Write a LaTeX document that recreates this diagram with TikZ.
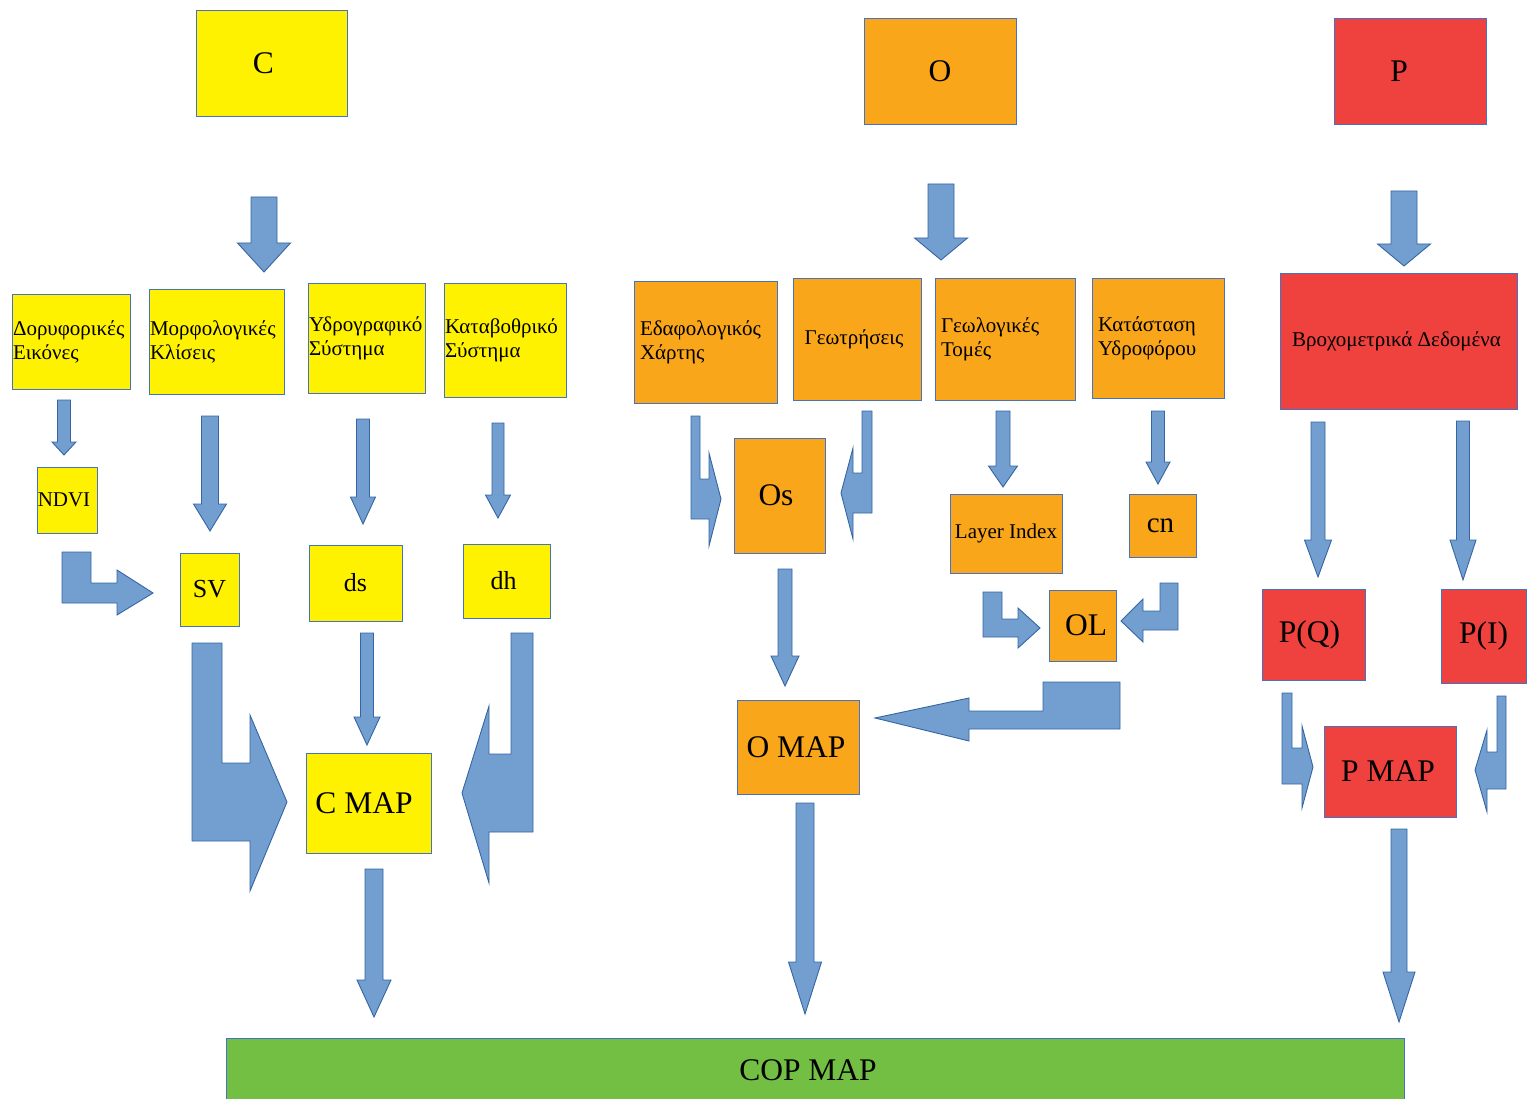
\documentclass[tikz,border=0pt]{standalone}
\usepackage{fontspec}
\setmainfont{Liberation Serif}

\definecolor{cyellow}{RGB}{255,242,0}
\definecolor{corange}{RGB}{249,166,26}
\definecolor{cred}{RGB}{239,65,61}
\definecolor{cgreen}{RGB}{114,191,68}
\definecolor{boxline}{RGB}{68,114,196}
\definecolor{arrowfill}{RGB}{114,159,207}
\definecolor{arrowline}{RGB}{52,101,164}

\tikzstyle{box}=[draw=boxline, line width=0.9pt, rectangle, inner sep=0pt]
\tikzstyle{small}=[font=\fontsize{21}{24}\selectfont]
\tikzstyle{big}=[font=\fontsize{31.5}{36}\selectfont]
\tikzstyle{blockarrow}=[draw=arrowline, fill=arrowfill, line width=0.9pt]

% straight block arrow: x, top, tip, shaft half width, head half width, head length
\newcommand{\blockdown}[6]{%
  \draw[blockarrow] (#1-#4,#2) -- (#1+#4,#2) -- (#1+#4,#3-#6) -- (#1+#5,#3-#6)
    -- (#1,#3) -- (#1-#5,#3-#6) -- (#1-#4,#3-#6) -- cycle;}

\begin{document}
\begin{tikzpicture}[x=1pt, y=-1pt]
  \useasboundingbox (0,0) rectangle (1539,1099);

  % top boxes
  \node[box, big, fill=cyellow, minimum width=151, minimum height=106](C) at (271.5,63) {\hspace*{-16pt}C};
  \node[box, big, fill=corange, minimum width=152, minimum height=106](O) at (940,71) {O};
  \node[box, big, fill=cred, minimum width=152, minimum height=106](P) at (1410,71) {\hspace*{-22pt}P};

  % C column
  \node[box, small, fill=cyellow, minimum width=118, minimum height=95, text width=116, inner xsep=1, align=left](dor) at (71,341.5) {Δορυφορικές\\Εικόνες};
  \node[box, small, fill=cyellow, minimum width=135, minimum height=105, text width=133, inner xsep=1, align=left](morf) at (216.5,341.5) {Μορφολογικές\\Κλίσεις};
  \node[box, small, fill=cyellow, minimum width=117, minimum height=110, text width=115, inner xsep=1, align=left](ydro) at (366.5,338) {Υδρογραφικό\\Σύστημα};
  \node[box, small, fill=cyellow, minimum width=122, minimum height=114, text width=120, inner xsep=1, align=left](kata) at (505,340) {Καταβοθρικό\\Σύστημα};
  \node[box, small, fill=cyellow, minimum width=60, minimum height=66](ndvi) at (67,500) {\hspace*{-6pt}NDVI};
  \node[box, fill=cyellow, minimum width=59, minimum height=73, font=\fontsize{26}{30}\selectfont](sv) at (209.5,589.5) {SV};
  \node[box, fill=cyellow, minimum width=93, minimum height=76, font=\fontsize{26}{30}\selectfont](ds) at (355.5,583) {ds};
  \node[box, fill=cyellow, minimum width=87, minimum height=74, font=\fontsize{26}{30}\selectfont](dh) at (506.5,581) {\hspace*{-6pt}dh};
  \node[box, big, fill=cyellow, minimum width=125, minimum height=100](cmap) at (368.5,803) {\hspace*{-9pt}C MAP};

  % O column
  \node[box, small, fill=corange, minimum width=143, minimum height=122, text width=131, inner xsep=6, align=left](edaf) at (705.5,342) {Εδαφολογικός\\Χάρτης};
  \node[box, small, fill=corange, minimum width=128, minimum height=122](geot) at (857,339) {\hspace*{-6pt}Γεωτρήσεις};
  \node[box, small, fill=corange, minimum width=140, minimum height=122, text width=128, inner xsep=6, align=left](geol) at (1005,339) {Γεωλογικές\\Τομές};
  \node[box, small, fill=corange, minimum width=132, minimum height=120, text width=120, inner xsep=6, align=left](katast) at (1158,338) {Κατάσταση\\Υδροφόρου};
  \node[box, big, fill=corange, minimum width=91, minimum height=115](os) at (779.5,495.5) {\hspace*{-7pt}Os};
  \node[box, small, fill=corange, minimum width=112, minimum height=79](layer) at (1006,533.5) {Layer Index};
  \node[box, fill=corange, minimum width=67, minimum height=63, font=\fontsize{29}{32}\selectfont](cn) at (1162.5,525.5) {\hspace*{-4pt}cn};
  \node[box, big, fill=corange, minimum width=67, minimum height=71](ol) at (1082.5,625.5) {\hspace*{7pt}OL};
  \node[box, big, fill=corange, minimum width=122, minimum height=94](omap) at (798,747) {\hspace*{-4pt}O MAP};

  % P column
  \node[box, small, fill=cred, minimum width=237, minimum height=136](vroxo) at (1398.5,341) {\hspace*{-4pt}Βροχομετρικά Δεδομένα};
  \node[box, big, fill=cred, minimum width=103, minimum height=91](pq) at (1313.5,634.5) {\hspace*{-8pt}P(Q)};
  \node[box, big, fill=cred, minimum width=85, minimum height=94](pi) at (1483.5,636) {P(I)};
  \node[box, big, fill=cred, minimum width=132, minimum height=91](pmap) at (1390,771.5) {\hspace*{-4pt}P MAP};

  \node[box, big, fill=cgreen, minimum width=1178, minimum height=64](cop) at (815,1070) {\hspace*{-14pt}COP MAP};

  % straight arrows
  \blockdown{264}{197}{272}{13}{26.5}{29}   % C -> morf
  \blockdown{941}{184}{260}{13}{26.5}{22}   % O -> geol
  \blockdown{1404}{191}{266}{13}{26.5}{22}  % P -> vroxo
  \blockdown{64}{400}{455}{6.5}{12}{13}     % dor -> ndvi
  \blockdown{210}{416}{531}{8.5}{16.5}{27}  % morf -> sv
  \blockdown{363}{419}{524}{6.5}{12.5}{27}  % ydro -> ds
  \blockdown{498}{423}{518}{6}{12.5}{23}    % kata -> dh
  \blockdown{367}{633}{745}{6.5}{13}{28}    % ds -> cmap
  \blockdown{374}{869}{1017}{9}{17}{37}     % cmap -> cop
  \blockdown{785}{569}{686}{7}{14}{30}      % os -> omap
  \blockdown{805}{803}{1014}{9}{16.5}{52}   % omap -> cop
  \blockdown{1003}{411}{487}{7}{14.5}{21}   % geol -> layer
  \blockdown{1158}{411}{484}{6.5}{12}{22}   % katast -> cn
  \blockdown{1318}{422}{577}{7}{13.5}{37}   % vroxo -> pq
  \blockdown{1463}{421}{580}{6.5}{13}{40}   % vroxo -> pi
  \blockdown{1399}{829}{1022}{8}{16}{50}    % pmap -> cop

  % bent arrows
  \draw[blockarrow] (62,552) -- (91,552) -- (91,583) -- (117,583) -- (117,570) -- (153,593)
    -- (117,615) -- (117,603) -- (62,603) -- cycle; % ndvi -> sv
  \draw[blockarrow] (192,643) -- (222,643) -- (222,763) -- (250,763) -- (250,715) -- (287,802)
    -- (250,891) -- (250,841) -- (192,841) -- cycle; % sv -> cmap
  \draw[blockarrow] (533,633) -- (511,633) -- (511,754) -- (489,754) -- (489,706) -- (462,793)
    -- (489,883) -- (489,832) -- (533,832) -- cycle; % dh -> cmap
  \draw[blockarrow] (691,416) -- (700,416) -- (700,479) -- (709,479) -- (709,453) -- (721,499)
    -- (709,546) -- (709,519) -- (691,519) -- cycle; % edaf -> os
  \draw[blockarrow] (872,411) -- (862,411) -- (862,473) -- (853,473) -- (853,448) -- (841,493)
    -- (853,539) -- (853,513) -- (872,513) -- cycle; % geot -> os
  \draw[blockarrow] (983,592) -- (1002,592) -- (1002,619) -- (1018,619) -- (1018,608) -- (1040,628)
    -- (1018,648) -- (1018,637) -- (983,637) -- cycle; % layer -> ol
  \draw[blockarrow] (1178,583) -- (1160,583) -- (1160,611) -- (1143,611) -- (1143,599) -- (1121,621)
    -- (1143,642) -- (1143,630) -- (1178,630) -- cycle; % cn -> ol
  \draw[blockarrow] (1120,682) -- (1043,682) -- (1043,711) -- (969,711) -- (969,698) -- (875,718)
    -- (969,741) -- (969,729) -- (1120,729) -- cycle; % ol -> omap
  \draw[blockarrow] (1282,693) -- (1292,693) -- (1292,748) -- (1302,748) -- (1302,726) -- (1313,767)
    -- (1302,808) -- (1302,784) -- (1282,784) -- cycle; % pq -> pmap
  \draw[blockarrow] (1506,696) -- (1497,696) -- (1497,752) -- (1487,752) -- (1487,730) -- (1475,770)
    -- (1487,812) -- (1487,789) -- (1506,789) -- cycle; % pi -> pmap

\end{tikzpicture}
\end{document}
